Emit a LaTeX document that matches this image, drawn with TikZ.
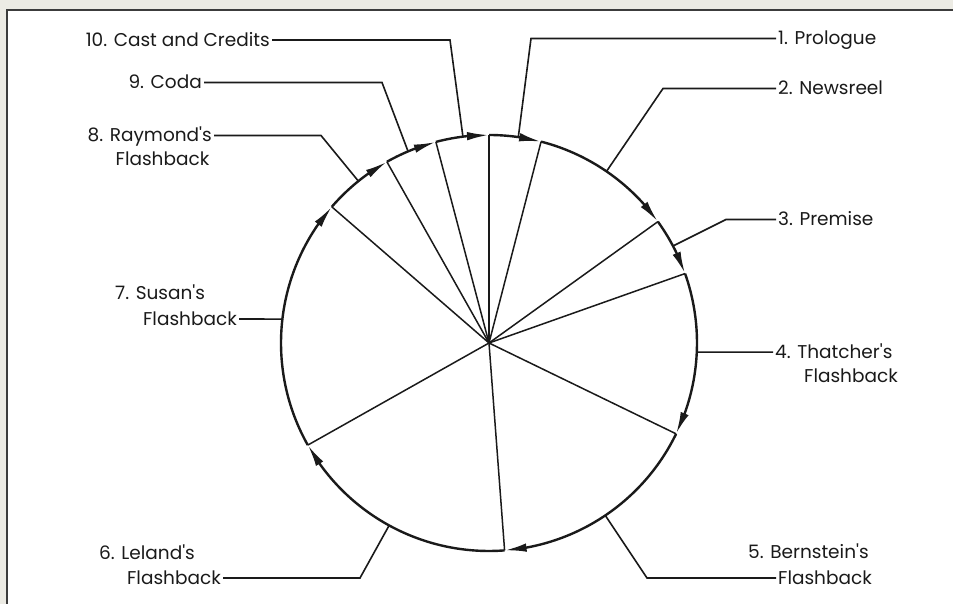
\documentclass[tikz,border=0pt]{standalone}
\usepackage{fontspec}
\setmainfont{Poppins}
\usetikzlibrary{arrows.meta,bending,calc}
\definecolor{bg}{HTML}{ECEBE4}
\definecolor{ink}{HTML}{1A1A1A}
\newcommand{\ap}{\textquotesingle}
\begin{document}
\begin{tikzpicture}[x=1pt,y=1pt,
  lbl/.style={font=\fontsize{18.5}{22}\selectfont, text=ink, inner sep=2pt, text height=13pt, text depth=0pt},
  rim/.style={line width=2.4pt, draw=ink},
  spoke/.style={line width=1.5pt, draw=ink},
  lead/.style={line width=1.6pt, draw=ink},
  tip/.style={-{Latex[length=22pt,width=8.5pt]}}]
\useasboundingbox (0,0) rectangle (953,604);
\fill[bg] (0,0) rectangle (953,604);
\filldraw[fill=white, draw=ink!85, line width=1.5pt] (7,-10) rectangle (965,594);
\coordinate (c) at (489,261);
\def\R{208}
\foreach \a/\n in {90/b1,75.5/b2,35.7/b3,19.5/b4,-25.9/b5,-85.7/b6,-150.6/b7,-220.9/b8,-240.6/b9,-255.2/b10}{
  \coordinate (\n) at ($(c)+(\a:\R)$);}
% leader points on the rim
\foreach \a/\n in {81.9/p1,55.6/p2,27.8/p3,-2.5/p4,-56/p5,-118.7/p6,173.4/p7,128.9/p8,112.9/p9,97.2/p10}{
  \coordinate (\n) at ($(c)+(\a:\R)$);}
% spokes
\draw[spoke, line width=2.4pt] (c) -- (b1);
\foreach \n in {b2,b3,b4,b5,b6,b7,b8,b9,b10}{\draw[spoke] (c) -- (\n);}
% rim with arrows
\foreach \s/\e/\n in {90/75.5/b1,75.5/35.7/b2,35.7/19.5/b3,19.5/-25.9/b4,-25.9/-85.7/b5,-85.7/-150.6/b6,-150.6/-220.9/b7,-220.9/-240.6/b8,-240.6/-255.2/b9,-255.2/-270/b10}{
  \draw[rim,tip] (\n) arc[start angle=\s, end angle=\e, radius=\R];}
% labels
\node[lbl, anchor=west] (t1) at (776,565.5) {1. Prologue};
\node[lbl, anchor=west] (t2) at (776,515.5) {2. Newsreel};
\node[lbl, anchor=west] (t3) at (776,384.5) {3. Premise};
\node[lbl, anchor=west] (t4) at (773,251.9) {4. Thatcher\ap s};
\node[lbl, anchor=west] (t4b) at (802,228.4) {Flashback};
\node[lbl, anchor=west] (t5) at (746,52.4) {5. Bernstein\ap s};
\node[lbl, anchor=west] (t5b) at (776,26) {Flashback};
\node[lbl, anchor=west] (t6) at (97,50.5) {6. Leland\ap s};
\node[lbl, anchor=east] (t6b) at (223,26) {Flashback};
\node[lbl, anchor=west] (t7) at (113,310.5) {7. Susan\ap s};
\node[lbl, anchor=east] (t7b) at (239,285) {Flashback};
\node[lbl, anchor=east] (t8) at (214,468.5) {8. Raymond\ap s};
\node[lbl, anchor=west] (t8b) at (113.5,445) {Flashback};
\node[lbl, anchor=east] (t9) at (204,521.5) {9. Coda};
\node[lbl, anchor=east] (t10) at (272,564) {10. Cast and Credits};
% corners
\coordinate (k1) at (531,565.5);
\coordinate (k2) at (663,515.5);
\coordinate (k3) at (726,384.5);
\coordinate (k5) at (647,26);
\coordinate (k6) at (360,26);
\coordinate (k8) at (321,468.5);
\coordinate (k9) at (382,521.5);
\coordinate (k10) at (450,564);
% leaders
\draw[lead] (p1) -- (k1) -- (t1.west);
\draw[lead] (p2) -- (k2) -- (t2.west);
\draw[lead] (p3) -- (k3) -- (t3.west);
\draw[lead] (p4) -- (t4.west);
\draw[lead] (p5) -- (k5) -- (t5b.west);
\draw[lead] (p6) -- (k6) -- (t6b.east);
\draw[lead] (p7) -- (t7b.east);
\draw[lead] (p8) -- (k8) -- (t8.east);
\draw[lead] (p9) -- (k9) -- (t9.east);
\draw[lead] (p10) -- (k10) -- (t10.east);
\end{tikzpicture}
\end{document}
